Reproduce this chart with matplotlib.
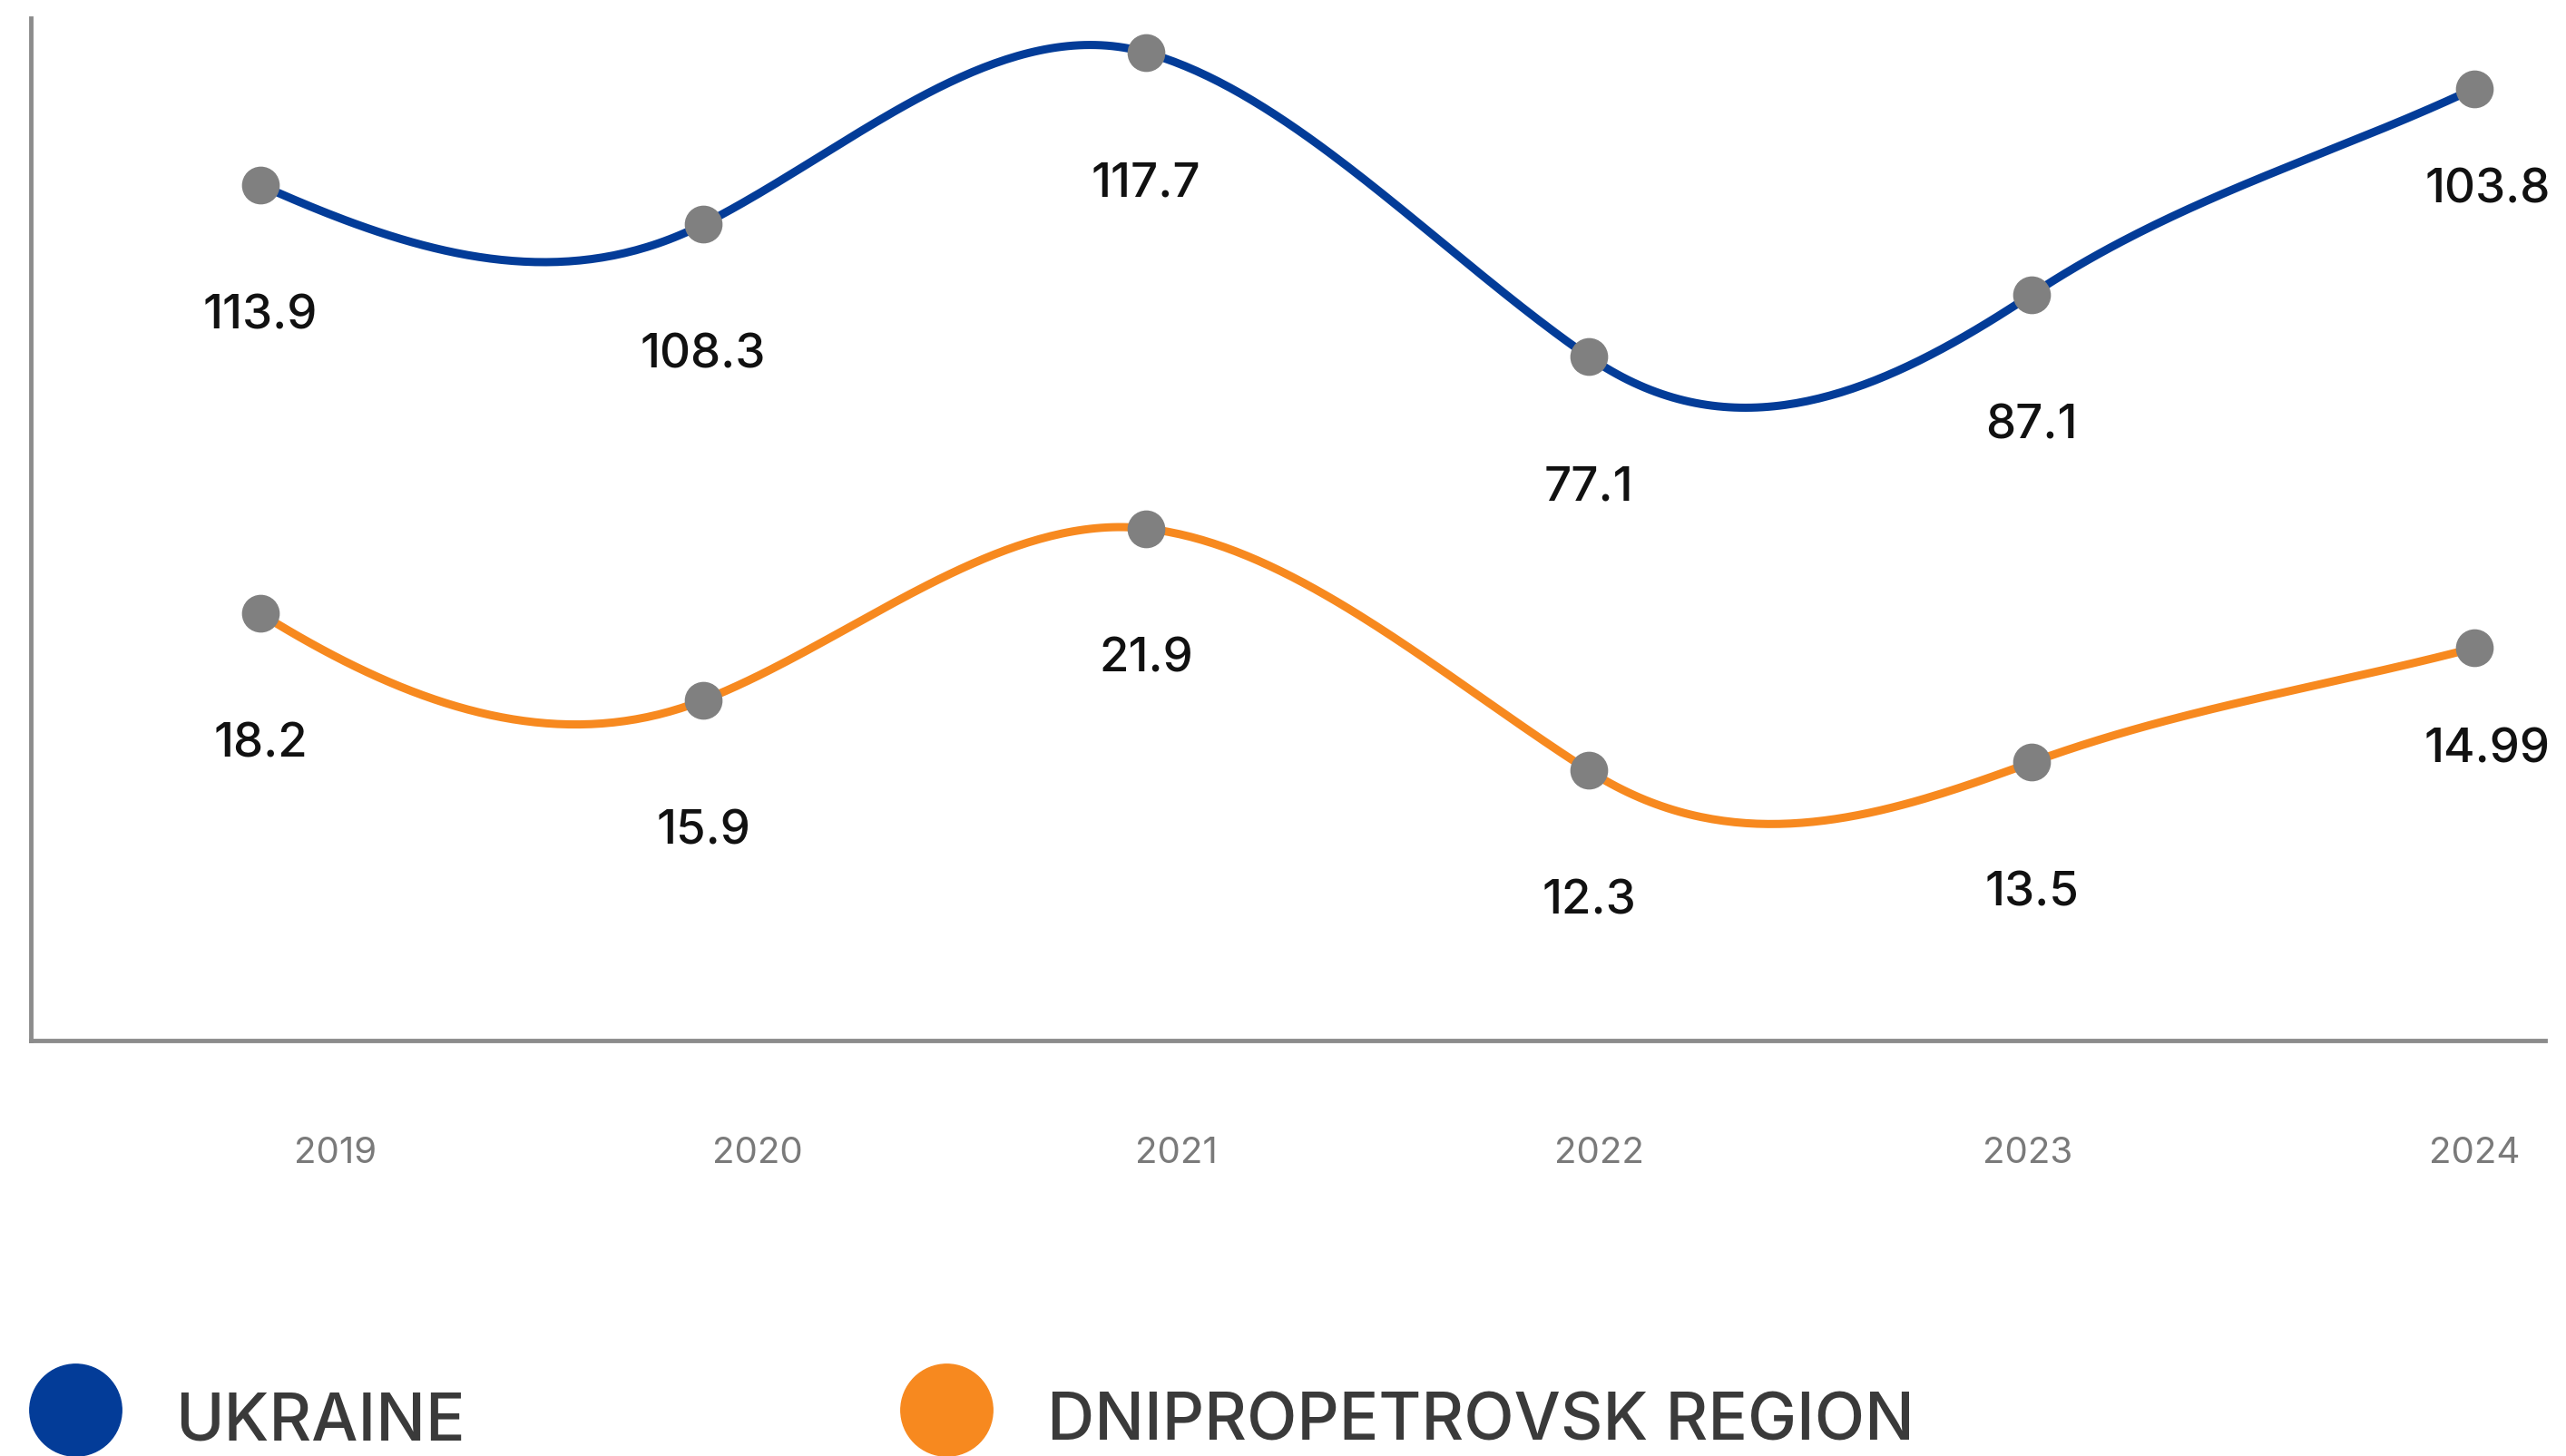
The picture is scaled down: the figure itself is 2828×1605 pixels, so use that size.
import numpy as np
import matplotlib.pyplot as plt
from matplotlib.lines import Line2D

plt.rcParams['font.family'] = ['Inter', 'DejaVu Sans']

years = ['2019', '2020', '2021', '2022', '2023', '2024']
series_names = ['UKRAINE', 'DNIPROPETROVSK REGION']
ukraine_labels = ['113.9', '108.3', '117.7', '77.1', '87.1', '103.8']
dnipro_labels = ['18.2', '15.9', '21.9', '12.3', '13.5', '14.99']
# heights of the dots as drawn in the original (it is not to scale with its labels)
ukraine_level = [523, 499, 604, 418, 456, 582]
dnipro_level = [261, 208, 313, 165, 170, 240]

BLUE = '#033c98'
ORANGE = '#f7891f'
DOT = '#808080'
AXIS = '#8c8c8c'

W, H = 2828, 1605
BEND = 1.45  # the original curve swings wider than a plain natural spline


def smooth_curve(y, steps=80):
    'hermite curve through equally spaced points, slopes taken from a natural spline'
    y = np.asarray(y, float)
    n = len(y)
    A = np.zeros((n, n))
    b = np.zeros(n)
    A[0, 0] = A[-1, -1] = 1
    for i in range(1, n - 1):
        A[i, i - 1:i + 2] = [1, 4, 1]
        b[i] = 6 * (y[i + 1] - 2 * y[i] + y[i - 1])
    M = np.linalg.solve(A, b)
    d = np.diff(y)
    m = np.empty(n)
    m[:-1] = d - (2 * M[:-1] + M[1:]) / 6
    m[-1] = d[-1] + (M[-2] + 2 * M[-1]) / 6
    m[:-1] *= BEND  # last slope left as is, the line runs straight into it
    t = np.linspace(0, 1, steps)
    h00 = 2 * t**3 - 3 * t**2 + 1
    h10 = t**3 - 2 * t**2 + t
    h01 = -2 * t**3 + 3 * t**2
    h11 = t**3 - t**2
    xs, ys = [], []
    for i in range(n - 1):
        ys.append(h00 * y[i] + h10 * m[i] + h01 * y[i + 1] + h11 * m[i + 1])
        xs.append(i + t)
    return np.concatenate(xs), np.concatenate(ys)


fig = plt.figure(figsize=(W / 100, H / 100), dpi=100)
ax = fig.add_axes([34 / W, 1 - 1147 / H, (2805 - 34) / W, (1147 - 20) / H])

x = np.arange(len(years))
for level, labels, color in [(ukraine_level, ukraine_labels, BLUE),
                             (dnipro_level, dnipro_labels, ORANGE)]:
    xs, ys = smooth_curve(level)
    ax.plot(xs, ys, color=color, lw=6.5, solid_capstyle='round', zorder=2)
    ax.plot(x, level, 'o', color=DOT, markersize=29, zorder=3)
    for i, (lv, lab) in enumerate(zip(level, labels)):
        if i == len(level) - 1:
            ax.annotate(lab, xy=(1.0, lv), xycoords=('axes fraction', 'data'),
                        xytext=(4, -91), textcoords='offset points',
                        ha='right', va='baseline', fontsize=38,
                        fontweight='medium', color='#111111')
        else:
            ax.annotate(lab, xy=(i, lv), xytext=(0, -114), textcoords='offset points',
                        ha='center', va='baseline', fontsize=38,
                        fontweight='medium', color='#111111')

ax.set_xlim((34 - 287) / 488, (2805 - 287) / 488)
ax.set_ylim(0, 625)

# the year captions sit on their own spacing, not under the dots
ax.set_xticks([0.17, 1.123, 2.069, 3.023, 3.991, 5.0])
ax.set_xticklabels(years)
ax.tick_params(axis='x', length=0, pad=76, labelsize=29, labelcolor='#7a7a7a')
ax.set_yticks([])
for side in ['top', 'right']:
    ax.spines[side].set_visible(False)
for side in ['left', 'bottom']:
    ax.spines[side].set_color(AXIS)
    ax.spines[side].set_linewidth(3.5)

# legend along the bottom edge
for name, color, cx, tx in [(series_names[0], BLUE, 83, 193),
                            (series_names[1], ORANGE, 1043, 1154)]:
    fig.add_artist(Line2D([cx / W], [1 - 1554 / H], marker='o', linestyle='none',
                          markersize=73, color=color, transform=fig.transFigure))
    fig.text(tx / W, 1 - 1588 / H, name, ha='left', va='baseline',
             fontsize=52, fontweight='medium', color='#3a3a3a')

fig.savefig('out.png', dpi=100)
